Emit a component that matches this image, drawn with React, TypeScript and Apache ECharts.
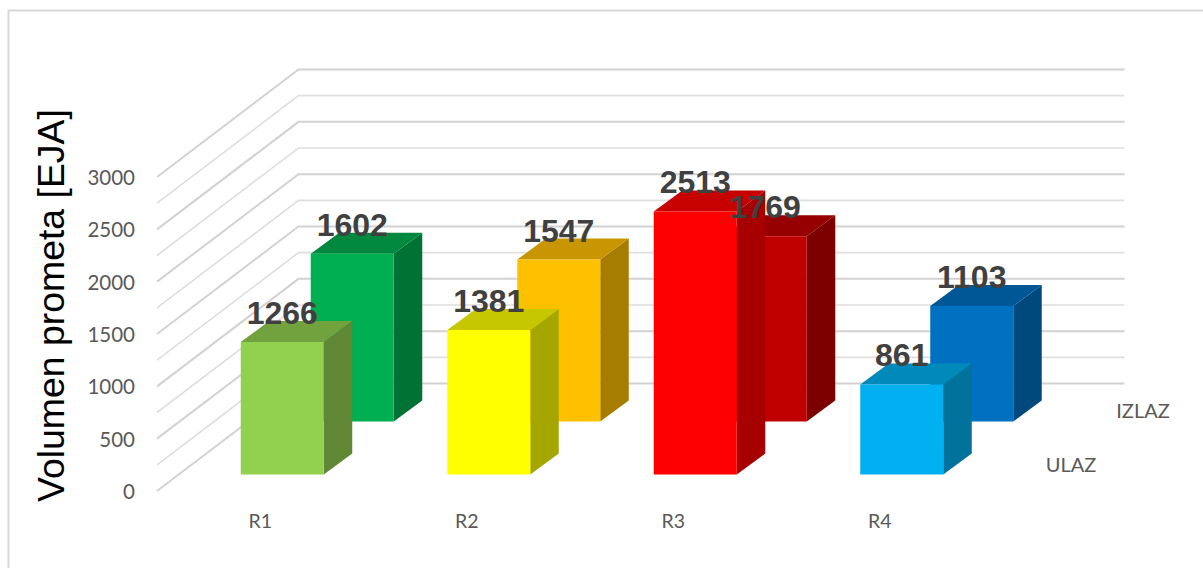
import React, { useEffect, useRef } from "react";
import * as echarts from "echarts";

const categories = ["R1", "R2", "R3", "R4"];
const ulaz = [1266, 1381, 2513, 861];
const izlaz = [1602, 1547, 1769, 1103];
const ulazColors = ["#92D050", "#FFFF00", "#FF0000", "#00B0F0"];
const izlazColors = ["#00B050", "#FFC000", "#C00000", "#0070C0"];
const wallTicks = [0, 250, 500, 750, 1000, 1250, 1500, 1750, 2000, 2250, 2500, 2750, 3000];
const depthNames = ["ULAZ", "IZLAZ"];

const GRID = { left: 157, top: 177, width: 826, height: 314 };
const WALL_DX = 141.5;
const WALL_DY = 107.5;
const BAR_W = 83;
const BAR_DX = 28.5;
const BAR_DY = 21;

function shade(hex: string, k: number) {
  const n = parseInt(hex.slice(1), 16);
  const c = [(n >> 16) & 255, (n >> 8) & 255, n & 255].map((v) => Math.round(v * k));
  return `rgb(${c[0]},${c[1]},${c[2]})`;
}

function barSeries(name: string, values: number[], colors: string[], xShift: number, yShift: number) {
  return {
    name,
    type: "custom",
    coordinateSystem: "cartesian2d",
    clip: false,
    silent: true,
    encode: { x: 0, y: 1 },
    data: values.map((v, i) => [i, v]),
    renderItem: (params: any, api: any) => {
      const i = api.value(0);
      const top = api.coord([i, api.value(1)]);
      const zero = api.coord([i, 0]);
      const x0 = top[0] + xShift;
      const x1 = x0 + BAR_W;
      const yT = top[1] + yShift;
      const yB = zero[1] + yShift;
      const color = colors[i];
      return {
        type: "group",
        children: [
          {
            type: "polygon",
            shape: { points: [[x1, yT], [x1 + BAR_DX, yT - BAR_DY], [x1 + BAR_DX, yB - BAR_DY], [x1, yB]] },
            style: { fill: shade(color, 0.65) },
          },
          {
            type: "polygon",
            shape: { points: [[x0, yT], [x0 + BAR_DX, yT - BAR_DY], [x1 + BAR_DX, yT - BAR_DY], [x1, yT]] },
            style: { fill: shade(color, 0.78) },
          },
          {
            type: "rect",
            shape: { x: x0, y: yT, width: BAR_W, height: yB - yT },
            style: { fill: color },
          },
        ],
      };
    },
  };
}

function labelSeries(values: number[], xShift: number, yShift: number) {
  return {
    type: "custom",
    coordinateSystem: "cartesian2d",
    clip: false,
    silent: true,
    z: 5,
    encode: { x: 0, y: 1 },
    data: values.map((v, i) => [i, v]),
    renderItem: (params: any, api: any) => {
      const top = api.coord([api.value(0), api.value(1)]);
      return {
        type: "text",
        style: {
          text: String(api.value(1)),
          x: top[0] + xShift + BAR_W / 2,
          y: top[1] + yShift - 29,
          align: "center",
          verticalAlign: "middle",
          fill: "#404040",
          font: 'bold 32px "Liberation Sans", Arial, sans-serif',
        },
      };
    },
  };
}

export default function App() {
  const ref = useRef<HTMLDivElement>(null);
  useEffect(() => {
    const chart = echarts.init(ref.current!, null, { renderer: "svg" });
    const FRONT_X = -19.5;
    const FRONT_Y = -16.5;
    const BACK_X = 50.5;
    const BACK_Y = -69.5;
    chart.setOption({
      animation: false,
      backgroundColor: "#ffffff",
      grid: GRID,
      xAxis: {
        type: "category",
        data: categories,
        axisLine: { show: false },
        axisTick: { show: false },
        axisLabel: { color: "#595959", fontFamily: "Lato", fontSize: 19.5, margin: 19 },
      },
      yAxis: {
        type: "value",
        min: 0,
        max: 3000,
        interval: 500,
        axisLine: { show: false },
        axisTick: { show: false },
        splitLine: { show: false },
        axisLabel: {
          color: "#595959",
          fontFamily: "Lato",
          fontSize: 20.5,
          margin: 22,
          formatter: (v: number) => String(v),
        },
      },
      graphic: [
        {
          type: "polyline",
          silent: true,
          shape: { points: [[8.5, 568], [8.5, 10.5], [1203, 10.5]] },
          style: { stroke: "#d9d9d9", lineWidth: 2, fill: "none" },
        },
        {
          type: "text",
          x: 50.5,
          y: 305.5,
          rotation: Math.PI / 2,
          style: {
            text: "Volumen prometa [EJA]",
            fill: "#000000",
            font: '37.4px "Liberation Sans", Arial, sans-serif',
            align: "center",
            verticalAlign: "middle",
          },
        },
        {
          type: "text",
          x: 1071,
          y: 464,
          style: { text: depthNames[0], fill: "#595959", font: "20px Lato", align: "center", verticalAlign: "middle" },
        },
        {
          type: "text",
          x: 1143,
          y: 410,
          style: { text: depthNames[1], fill: "#595959", font: "20px Lato", align: "center", verticalAlign: "middle" },
        },
      ],
      series: [
        {
          type: "custom",
          coordinateSystem: "cartesian2d",
          clip: false,
          silent: true,
          encode: { x: 0, y: 1 },
          data: wallTicks.map((t) => [0, t]),
          renderItem: (params: any, api: any) => {
            const y = api.coord([0, api.value(1)])[1];
            const major = api.value(1) % 500 === 0;
            const sys = params.coordSys;
            return {
              type: "polyline",
              shape: {
                points: [
                  [sys.x, y],
                  [sys.x + WALL_DX, y - WALL_DY],
                  [sys.x + WALL_DX + sys.width, y - WALL_DY],
                ],
              },
              style: { stroke: major ? "#d2d2d2" : "#dedede", lineWidth: major ? 2 : 1.6, fill: "none" },
            };
          },
        },
        barSeries("IZLAZ", izlaz, izlazColors, BACK_X, BACK_Y),
        barSeries("ULAZ", ulaz, ulazColors, FRONT_X, FRONT_Y),
        labelSeries(izlaz, BACK_X, BACK_Y),
        labelSeries(ulaz, FRONT_X, FRONT_Y),
      ],
    });
    return () => chart.dispose();
  }, []);
  return (
    <div
      ref={ref}
      style={{ position: "absolute", left: 0, top: 0, width: 1203, height: 568, overflow: "hidden" }}
    />
  );
}
